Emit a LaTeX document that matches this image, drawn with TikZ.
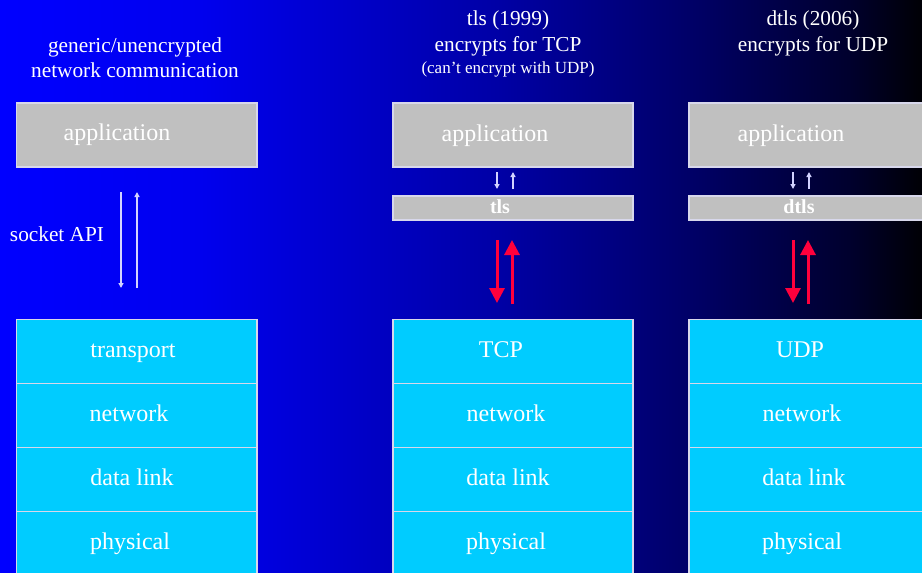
\documentclass[tikz,border=0pt]{standalone}
\usepackage{fontspec}
\setmainfont{Liberation Serif}
\usetikzlibrary{arrows.meta}
\definecolor{appgray}{RGB}{192,192,192}
\definecolor{layercyan}{RGB}{0,204,255}
\definecolor{boxedge}{RGB}{215,215,235}
\definecolor{redarrow}{RGB}{255,0,60}
\definecolor{lav}{RGB}{210,210,255}
\definecolor{bgA}{RGB}{0,0,255}
\definecolor{bgB}{RGB}{0,0,238}
\definecolor{bgC}{RGB}{0,0,165}
\definecolor{bgD}{RGB}{0,0,100}
\definecolor{bgE}{RGB}{0,0,45}
\definecolor{bgF}{RGB}{0,0,5}
\begin{document}
\begin{tikzpicture}[x=1pt,y=-1pt,
  appbox/.style={draw=boxedge,line width=1.4pt,fill=appgray,minimum width=240pt,minimum height=64pt,inner sep=0pt},
  barbox/.style={draw=boxedge,line width=1.4pt,fill=appgray,minimum width=240pt,minimum height=24pt,inner sep=0pt},
  layerbox/.style={draw=boxedge,line width=1.4pt,fill=layercyan,minimum width=240pt,minimum height=64pt,inner sep=0pt},
  title/.style={text=white,font=\fontsize{21.3}{25}\selectfont,anchor=base,inner sep=0pt},
  small/.style={text=white,font=\fontsize{17}{20}\selectfont,anchor=base,inner sep=0pt},
  lbl/.style={text=white,font=\fontsize{24}{28}\selectfont,anchor=base,inner sep=0pt},
  bartext/.style={text=white,font=\fontsize{20}{24}\selectfont\bfseries,anchor=base,inner sep=0pt},
  thinarrow/.style={draw=lav,line width=1.3pt,-{Triangle[width=5pt,length=5pt]}},
  redarr/.style={draw=redarrow,line width=3pt,-{Triangle[width=15pt,length=15pt]}}
]
\useasboundingbox (0,0) rectangle (922,573);
% background gradient
\shade[left color=bgA,right color=bgB] (0,0) rectangle (200.5,573);
\shade[left color=bgB,right color=bgC] (200,0) rectangle (500.5,573);
\shade[left color=bgC,right color=bgD] (500,0) rectangle (700.5,573);
\shade[left color=bgD,right color=bgE] (700,0) rectangle (850.5,573);
\shade[left color=bgE,right color=bgF] (850,0) rectangle (922,573);

% titles
\node[title] (t1a) at (135,52) {generic/unencrypted};
\node[title] (t1b) at (135,77) {network communication};
\node[title] (t2a) at (508,25) {tls (1999)};
\node[title] (t2b) at (508,51) {encrypts for TCP};
\node[small] (t2c) at (508,73) {(can’t encrypt with UDP)};
\node[title] (t3a) at (813,25) {dtls (2006)};
\node[title] (t3b) at (813,51) {encrypts for UDP};

% column 1
\node[appbox,minimum width=240.5pt] (app1) at (136.75,135) {};
\node[lbl] (app1t) at (117,140) {application};
\node[layerbox,minimum width=240.5pt] (tr1) at (136.75,351.3) {};
\node[layerbox,minimum width=240.5pt] (nw1) at (136.75,415.3) {};
\node[layerbox,minimum width=240.5pt] (dl1) at (136.75,479.3) {};
\node[layerbox,minimum width=240.5pt] (ph1) at (136.75,543.3) {};
\node[lbl] (tr1t) at (133,357) {transport};
\node[lbl] (nw1t) at (129,421) {network};
\node[lbl] (dl1t) at (132,485) {data link};
\node[lbl] (ph1t) at (130,549) {physical};
\node[title] (sock) at (57,241) {socket API};
\coordinate (s1a) at (121,192);
\coordinate (s1b) at (121,288);
\coordinate (s2a) at (137,288);
\coordinate (s2b) at (137,192);
\draw[thinarrow] (s1a) -- (s1b);
\draw[thinarrow] (s2a) -- (s2b);

% column 2
\node[appbox] (app2) at (513,135) {};
\node[lbl] (app2t) at (495,141) {application};
\node[barbox] (tls) at (513,208) {};
\node[bartext] (tlst) at (500,213) {tls};
\node[layerbox] (tcp) at (513,351.3) {};
\node[layerbox] (nw2) at (513,415.3) {};
\node[layerbox] (dl2) at (513,479.3) {};
\node[layerbox] (ph2) at (513,543.3) {};
\node[lbl] (tcpt) at (501,357) {TCP};
\node[lbl] (nw2t) at (506,421) {network};
\node[lbl] (dl2t) at (508,485) {data link};
\node[lbl] (ph2t) at (506,549) {physical};
\coordinate (c2a) at (497,172);
\coordinate (c2b) at (497,189);
\coordinate (c2c) at (513,189);
\coordinate (c2d) at (513,172);
\draw[thinarrow] (c2a) -- (c2b);
\draw[thinarrow] (c2c) -- (c2d);
\coordinate (r2a) at (497,240);
\coordinate (r2b) at (497,303);
\coordinate (r2c) at (512,304);
\coordinate (r2d) at (512,240);
\draw[redarr] (r2a) -- (r2b);
\draw[redarr] (r2c) -- (r2d);

% column 3
\node[appbox] (app3) at (809,135) {};
\node[lbl] (app3t) at (791,141) {application};
\node[barbox] (dtls) at (809,208) {};
\node[bartext] (dtlst) at (799,213) {dtls};
\node[layerbox] (udp) at (809,351.3) {};
\node[layerbox] (nw3) at (809,415.3) {};
\node[layerbox] (dl3) at (809,479.3) {};
\node[layerbox] (ph3) at (809,543.3) {};
\node[lbl] (udpt) at (800,357) {UDP};
\node[lbl] (nw3t) at (802,421) {network};
\node[lbl] (dl3t) at (804,485) {data link};
\node[lbl] (ph3t) at (802,549) {physical};
\coordinate (c3a) at (793,172);
\coordinate (c3b) at (793,189);
\coordinate (c3c) at (809,189);
\coordinate (c3d) at (809,172);
\draw[thinarrow] (c3a) -- (c3b);
\draw[thinarrow] (c3c) -- (c3d);
\coordinate (r3a) at (793,240);
\coordinate (r3b) at (793,303);
\coordinate (r3c) at (808,304);
\coordinate (r3d) at (808,240);
\draw[redarr] (r3a) -- (r3b);
\draw[redarr] (r3c) -- (r3d);
\end{tikzpicture}
\end{document}
